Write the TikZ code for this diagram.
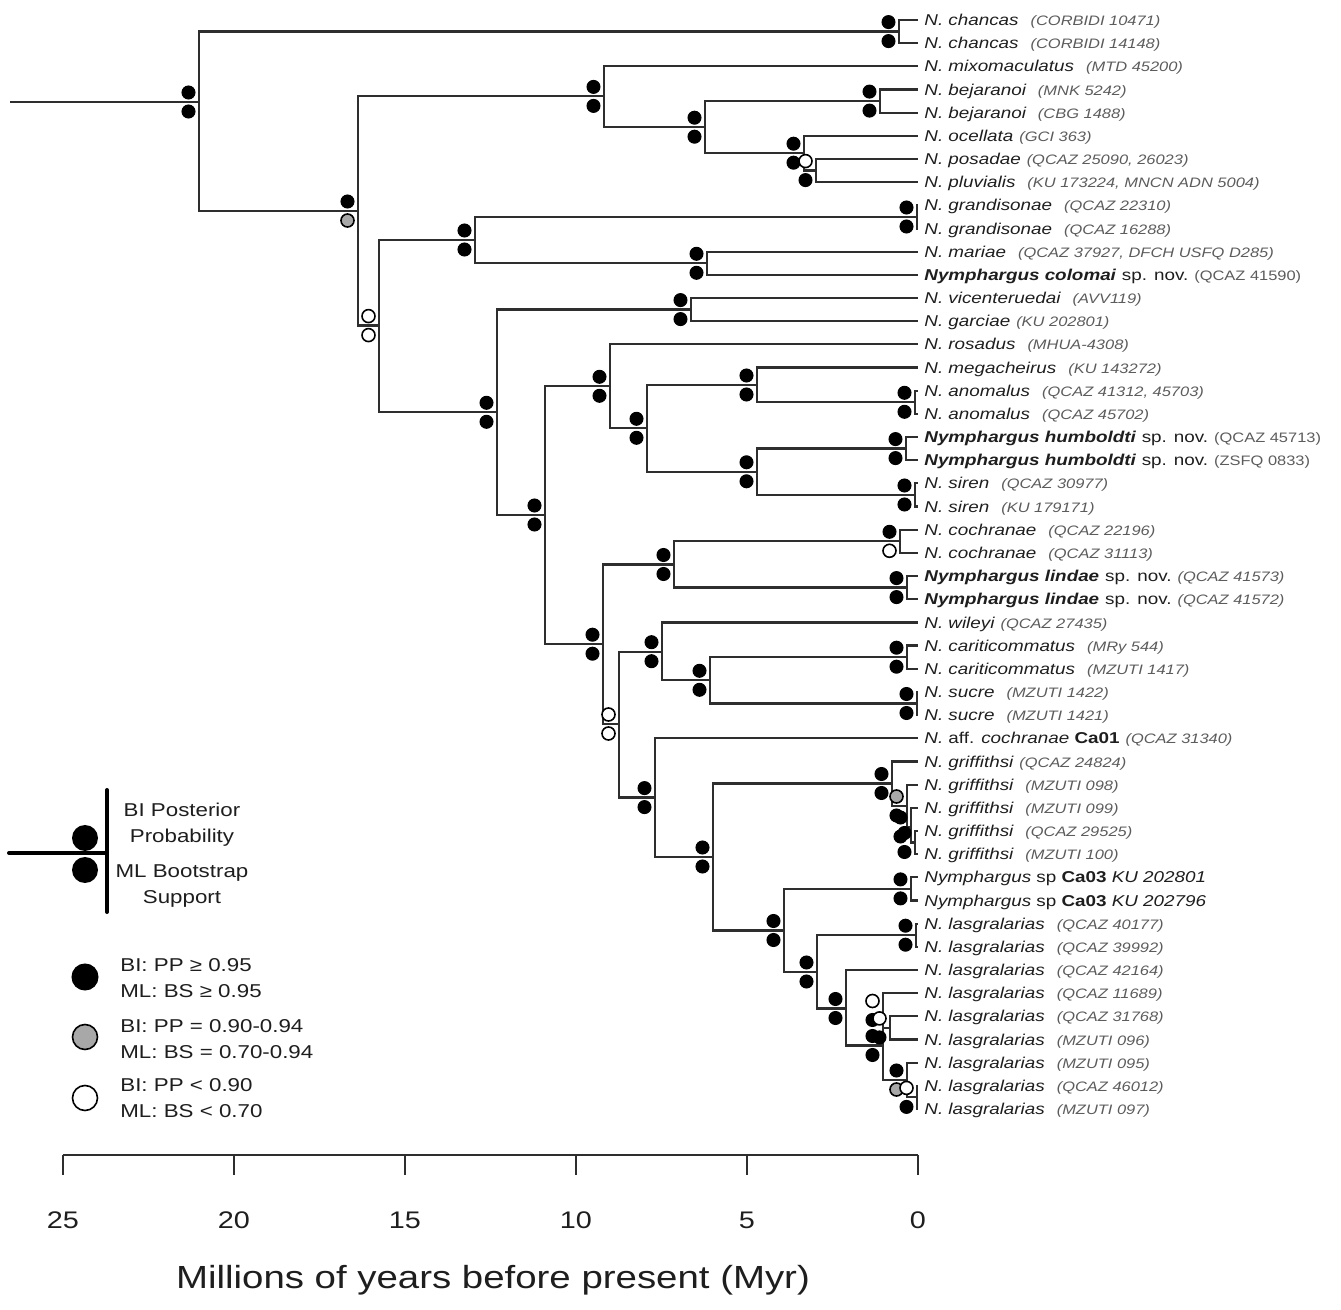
\documentclass[tikz,border=0pt]{standalone}
\usepackage{fontspec}
\setmainfont{Liberation Sans}[FakeStretch=1.2]
\usepackage{xcolor}
\definecolor{branchcol}{HTML}{2E2E2E}
\definecolor{namecol}{HTML}{1E1E1E}
\definecolor{vouchcol}{HTML}{5C5C5C}
\definecolor{midgray}{HTML}{A8A8A8}

\newcommand{\vc}[1]{{\fontsize{6.85}{8}\selectfont\color{vouchcol}#1}}
\newcommand{\gap}{\hspace{6pt}}
\newcommand{\sgap}{\hspace{3pt}}

\begin{document}
\begin{tikzpicture}[x=0.5pt, y=-0.5pt,
  branch/.style={draw=branchcol, line width=1.1pt},
  pB/.style={fill=black, draw=black, line width=0.5pt},
  pG/.style={fill=midgray, draw=black, line width=0.8pt},
  pW/.style={fill=white, draw=black, line width=0.8pt},
  lab/.style={anchor=base west, inner sep=0pt, xshift=3pt, yshift=-2.8pt,
    text=namecol, font=\fontsize{7.85}{9}\selectfont\itshape},
  legtext/.style={align=center, inner sep=0pt, text=namecol,
    font=\fontsize{9.3}{13}\selectfont},
  keytext/.style={anchor=west, align=left, inner sep=0pt, text=namecol,
    font=\fontsize{9.3}{13}\selectfont},
  axnum/.style={inner sep=0pt, text=namecol, font=\fontsize{12}{14}\selectfont},
  axtitle/.style={inner sep=0pt, text=namecol, font=\fontsize{16}{18}\selectfont}]
  \useasboundingbox (0,0) rectangle (1341,1310);

  % Tips
  \foreach \i in {1,...,48}
    \coordinate (t\i) at (918, {20+23.17*(\i-1)});

  % Internal nodes (x = age, y = stem)
  \coordinate (base) at (10,102);
  \coordinate (root) at (199,102);
  \coordinate (nChan) at (899,31.6);
  \coordinate (nA) at (358,211);
  \coordinate (nB) at (604,96.4);
  \coordinate (nC) at (705,127.2);
  \coordinate (nD) at (880,101.1);
  \coordinate (nE) at (804,153.2);
  \coordinate (nF) at (816,170.6);
  \coordinate (nI) at (379,325.6);
  \coordinate (nG) at (475,240);
  \coordinate (nGra) at (917,217);
  \coordinate (nH) at (707,263.3);
  \coordinate (nJ) at (497,412.3);
  \coordinate (nK) at (691,309.6);
  \coordinate (nL) at (545,515);
  \coordinate (nM) at (610,386.3);
  \coordinate (nN) at (647,428.3);
  \coordinate (nO) at (757,385);
  \coordinate (nAno) at (915,402.3);
  \coordinate (nP) at (757,471.8);
  \coordinate (nHum) at (906,448.6);
  \coordinate (nSir) at (915,495);
  \coordinate (nR) at (603,644.2);
  \coordinate (nQ) at (674,564.5);
  \coordinate (nCoc) at (900,541.3);
  \coordinate (nLin) at (907,587.6);
  \coordinate (nS) at (619,724);
  \coordinate (nT) at (662,651.7);
  \coordinate (nU) at (710,680.3);
  \coordinate (nCar) at (907,657.2);
  \coordinate (nSuc) at (917,703.5);
  \coordinate (nV) at (655,797.6);
  \coordinate (nW) at (713,857);
  \coordinate (nX) at (892,783.5);
  \coordinate (nY) at (907,806);
  \coordinate (nZ) at (911,827);
  \coordinate (nZZ) at (915,842.5);
  \coordinate (nAA) at (784,930.5);
  \coordinate (nCa) at (911,888.9);
  \coordinate (nAB) at (817,972);
  \coordinate (nLas) at (916,935.2);
  \coordinate (nAC) at (846,1008.5);
  \coordinate (nAD) at (883,1045.5);
  \coordinate (nAD1) at (883,1010.5);
  \coordinate (nAE) at (890,1027.9);
  \coordinate (nAF) at (907,1080);
  \coordinate (nAG) at (917,1097.4);

  % Branches
  \draw[branch] (base) -- (root);
  \foreach \p/\c in {root/nChan, root/nA, nChan/t1, nChan/t2,
      nA/nB, nA/nI, nB/t3, nB/nC, nC/nD, nC/nE, nD/t4, nD/t5,
      nE/t6, nE/nF, nF/t7, nF/t8,
      nI/nG, nI/nJ, nG/nGra, nG/nH, nGra/t9, nGra/t10, nH/t11, nH/t12,
      nJ/nK, nJ/nL, nK/t13, nK/t14, nL/nM, nL/nR,
      nM/t15, nM/nN, nN/nO, nN/nP, nO/t16, nO/nAno, nAno/t17, nAno/t18,
      nP/nHum, nP/nSir, nHum/t19, nHum/t20, nSir/t21, nSir/t22,
      nR/nQ, nR/nS, nQ/nCoc, nQ/nLin, nCoc/t23, nCoc/t24, nLin/t25, nLin/t26,
      nS/nT, nS/nV, nT/t27, nT/nU, nU/nCar, nU/nSuc,
      nCar/t28, nCar/t29, nSuc/t30, nSuc/t31,
      nV/t32, nV/nW, nW/nX, nW/nAA, nX/t33, nX/nY, nY/t34, nY/nZ,
      nZ/t35, nZ/nZZ, nZZ/t36, nZZ/t37,
      nAA/nCa, nAA/nAB, nCa/t38, nCa/t39, nAB/nLas, nAB/nAC,
      nLas/t40, nLas/t41, nAC/t42, nAC/nAD, nAD/nAD1, nAD/nAF,
      nAD1/t43, nAD1/nAE, nAE/t44, nAE/t45, nAF/t46, nAF/nAG,
      nAG/t47, nAG/t48}
    \draw[branch] (\p) |- (\c);

  % Support (top = BI PP, bottom = ML BS)
  \foreach \n/\a/\b in {root/pB/pB, nChan/pB/pB, nA/pB/pG, nB/pB/pB,
      nC/pB/pB, nD/pB/pB, nE/pB/pB, nF/pW/pB, nI/pW/pW, nG/pB/pB,
      nGra/pB/pB, nH/pB/pB, nJ/pB/pB, nK/pB/pB, nL/pB/pB, nM/pB/pB,
      nN/pB/pB, nO/pB/pB, nAno/pB/pB, nP/pB/pB, nHum/pB/pB, nSir/pB/pB,
      nR/pB/pB, nQ/pB/pB, nCoc/pB/pW, nLin/pB/pB, nS/pW/pW, nT/pB/pB,
      nU/pB/pB, nCar/pB/pB, nSuc/pB/pB, nV/pB/pB, nW/pB/pB, nX/pB/pB,
      nZ/pB/pB, nY/pG/pB, nZZ/pB/pB, nAA/pB/pB, nCa/pB/pB, nAB/pB/pB,
      nLas/pB/pB, nAC/pB/pB, nAD/pB/pB, nAD1/pW/pB, nAE/pW/pB,
      nAF/pB/pG, nAG/pW/pB}
  {
    \path[\a] (\n) ++(-10.5,-9.5) circle[radius=6.5];
    \path[\b] (\n) ++(-10.5,9.5) circle[radius=6.5];
  }

  % Tip labels
  \node[lab] (L1) at (t1) {N. chancas\gap\vc{(CORBIDI 10471)}};
  \node[lab] (L2) at (t2) {N. chancas\gap\vc{(CORBIDI 14148)}};
  \node[lab] (L3) at (t3) {N. mixomaculatus\gap\vc{(MTD 45200)}};
  \node[lab] (L4) at (t4) {N. bejaranoi\gap\vc{(MNK 5242)}};
  \node[lab] (L5) at (t5) {N. bejaranoi\gap\vc{(CBG 1488)}};
  \node[lab] (L6) at (t6) {N. ocellata\sgap\vc{(GCI 363)}};
  \node[lab] (L7) at (t7) {N. posadae\sgap\vc{(QCAZ 25090, 26023)}};
  \node[lab] (L8) at (t8) {N. pluvialis\gap\vc{(KU 173224, MNCN ADN 5004)}};
  \node[lab] (L9) at (t9) {N. grandisonae\gap\vc{(QCAZ 22310)}};
  \node[lab] (L10) at (t10) {N. grandisonae\gap\vc{(QCAZ 16288)}};
  \node[lab] (L11) at (t11) {N. mariae\gap\vc{(QCAZ 37927, DFCH USFQ D285)}};
  \node[lab] (L12) at (t12) {\textbf{Nymphargus colomai}\sgap{\upshape sp. nov.}\sgap\vc{\upshape(QCAZ 41590)}};
  \node[lab] (L13) at (t13) {N. vicenteruedai\gap\vc{(AVV119)}};
  \node[lab] (L14) at (t14) {N. garciae\sgap\vc{(KU 202801)}};
  \node[lab] (L15) at (t15) {N. rosadus\gap\vc{(MHUA-4308)}};
  \node[lab] (L16) at (t16) {N. megacheirus\gap\vc{(KU 143272)}};
  \node[lab] (L17) at (t17) {N. anomalus\gap\vc{(QCAZ 41312, 45703)}};
  \node[lab] (L18) at (t18) {N. anomalus\gap\vc{(QCAZ 45702)}};
  \node[lab] (L19) at (t19) {\textbf{Nymphargus humboldti}\sgap{\upshape sp. nov.}\sgap\vc{\upshape(QCAZ 45713)}};
  \node[lab] (L20) at (t20) {\textbf{Nymphargus humboldti}\sgap{\upshape sp. nov.}\sgap\vc{\upshape(ZSFQ 0833)}};
  \node[lab] (L21) at (t21) {N. siren\gap\vc{(QCAZ 30977)}};
  \node[lab] (L22) at (t22) {N. siren\gap\vc{(KU 179171)}};
  \node[lab] (L23) at (t23) {N. cochranae\gap\vc{(QCAZ 22196)}};
  \node[lab] (L24) at (t24) {N. cochranae\gap\vc{(QCAZ 31113)}};
  \node[lab] (L25) at (t25) {\textbf{Nymphargus lindae}\sgap{\upshape sp. nov.}\sgap\vc{(QCAZ 41573)}};
  \node[lab] (L26) at (t26) {\textbf{Nymphargus lindae}\sgap{\upshape sp. nov.}\sgap\vc{(QCAZ 41572)}};
  \node[lab] (L27) at (t27) {N. wileyi\sgap\vc{(QCAZ 27435)}};
  \node[lab] (L28) at (t28) {N. cariticommatus\gap\vc{(MRy 544)}};
  \node[lab] (L29) at (t29) {N. cariticommatus\gap\vc{(MZUTI 1417)}};
  \node[lab] (L30) at (t30) {N. sucre\gap\vc{(MZUTI 1422)}};
  \node[lab] (L31) at (t31) {N. sucre\gap\vc{(MZUTI 1421)}};
  \node[lab] (L32) at (t32) {N. {\upshape aff.} cochranae {\upshape\bfseries Ca01}\sgap\vc{(QCAZ 31340)}};
  \node[lab] (L33) at (t33) {N. griffithsi\sgap\vc{(QCAZ 24824)}};
  \node[lab] (L34) at (t34) {N. griffithsi\gap\vc{(MZUTI 098)}};
  \node[lab] (L35) at (t35) {N. griffithsi\gap\vc{(MZUTI 099)}};
  \node[lab] (L36) at (t36) {N. griffithsi\gap\vc{(QCAZ 29525)}};
  \node[lab] (L37) at (t37) {N. griffithsi\gap\vc{(MZUTI 100)}};
  \node[lab] (L38) at (t38) {Nymphargus {\upshape sp \bfseries Ca03} KU 202801};
  \node[lab] (L39) at (t39) {Nymphargus {\upshape sp \bfseries Ca03} KU 202796};
  \node[lab] (L40) at (t40) {N. lasgralarias\gap\vc{(QCAZ 40177)}};
  \node[lab] (L41) at (t41) {N. lasgralarias\gap\vc{(QCAZ 39992)}};
  \node[lab] (L42) at (t42) {N. lasgralarias\gap\vc{(QCAZ 42164)}};
  \node[lab] (L43) at (t43) {N. lasgralarias\gap\vc{(QCAZ 11689)}};
  \node[lab] (L44) at (t44) {N. lasgralarias\gap\vc{(QCAZ 31768)}};
  \node[lab] (L45) at (t45) {N. lasgralarias\gap\vc{(MZUTI 096)}};
  \node[lab] (L46) at (t46) {N. lasgralarias\gap\vc{(MZUTI 095)}};
  \node[lab] (L47) at (t47) {N. lasgralarias\gap\vc{(QCAZ 46012)}};
  \node[lab] (L48) at (t48) {N. lasgralarias\gap\vc{(MZUTI 097)}};

  % Legend
  \coordinate (lgBase) at (9,853);
  \coordinate (lgNode) at (107,853);
  \draw[line width=2pt, line cap=round] (lgBase) -- (lgNode);
  \draw[line width=2pt, line cap=round] (lgNode) ++(0,-63) -- ++(0,122);
  \fill (85,838) circle[radius=13];
  \fill (85,870) circle[radius=13];
  \node[legtext] (lgPP) at (182,825) {BI Posterior\\Probability};
  \node[legtext] (lgBS) at (182,886) {ML Bootstrap\\Support};
  \path[pB] (85,977) circle[radius=13];
  \path[pG] (85,1037) circle[radius=12.5];
  \path[pW] (85,1098) circle[radius=12.5];
  \node[keytext] (kB) at (120,978) {BI: PP ≥ 0.95\\ML: BS ≥ 0.95};
  \node[keytext] (kG) at (120,1039) {BI: PP = 0.90-0.94\\ML: BS = 0.70-0.94};
  \node[keytext] (kW) at (120,1098) {BI: PP < 0.90\\ML: BS < 0.70};

  % Time axis
  \draw[branch] (63,1155) -- (918,1155);
  \foreach \t in {0,5,...,25} {
    \draw[branch] ({918-34.2*\t},1155) -- ++(0,20);
    \node[axnum] (ax\t) at ({918-34.2*\t},1220) {\t};
  }
  \node[axtitle] (axlab) at (493,1280) {Millions of years before present (Myr)};
\end{tikzpicture}
\end{document}
